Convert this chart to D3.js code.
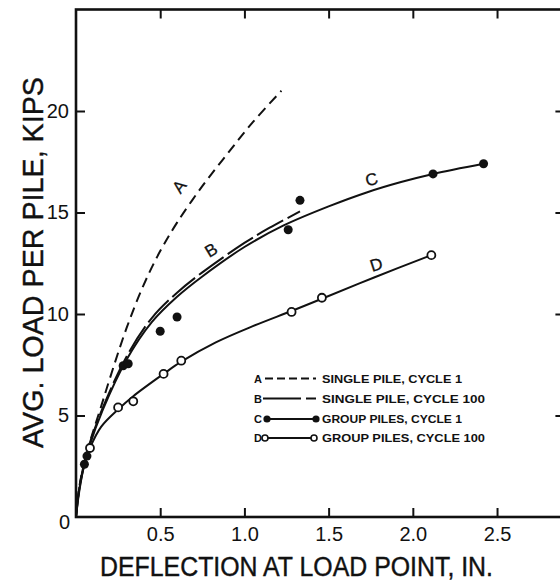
<!DOCTYPE html>
<html>
<head>
<meta charset="utf-8">
<script src="https://cdn.jsdelivr.net/npm/d3@7"></script>
<style>
  body { margin: 0; background: #fff; }
  svg { display: block; }
  text { font-family: "Liberation Sans", Arial, sans-serif; fill: #111; }
</style>
</head>
<body>
<div id="chart"></div>
<script>
// curve A: single pile, cycle 1 (dashed)
const curveA = [[0,0],[0.02,1.5],[0.05,2.7],[0.09,3.9],[0.14,5.2],[0.2,6.8],[0.3,9.3],[0.4,11.4],[0.5,13.1],[0.6,14.5],[0.75,16.3],[0.9,17.9],[1.05,19.45],[1.22,21.0]];
// curve B: single pile, cycle 100 (long dash)
const curveB = [[0,0],[0.02,1.45],[0.05,2.7],[0.08,3.6],[0.16,5.4],[0.3,7.9],[0.45,9.8],[0.6,11.05],[0.75,12.05],[1.0,13.5],[1.15,14.25],[1.33,15.05]];
// curve C: group piles, cycle 1
const curveC = [[0,0],[0.02,1.4],[0.05,2.6],[0.08,3.5],[0.16,5.3],[0.3,7.75],[0.45,9.6],[0.6,10.85],[0.75,11.85],[1.0,13.3],[1.23,14.35],[1.5,15.3],[1.73,16.0],[1.93,16.5],[2.12,16.9],[2.42,17.4]];
const pointsC = [[0.05,2.6],[0.065,3.0],[0.28,7.45],[0.31,7.55],[0.5,9.15],[0.6,9.85],[1.26,14.15],[1.33,15.6],[2.12,16.9],[2.42,17.4]];
// curve D: group piles, cycle 100
const curveD = [[0,0],[0.02,1.3],[0.05,2.6],[0.083,3.4],[0.15,4.45],[0.25,5.3],[0.34,5.95],[0.52,7.05],[0.625,7.65],[0.83,8.6],[1.05,9.4],[1.28,10.15],[1.46,10.75],[1.77,11.8],[2.11,12.9]];
const pointsD = [[0.083,3.4],[0.25,5.4],[0.34,5.7],[0.52,7.05],[0.625,7.7],[1.28,10.1],[1.46,10.8],[2.11,12.9]];

const xTicks = [0.5, 1.0, 1.5, 2.0, 2.5];
const yTicks = [5, 10, 15, 20];
const legendKeys = ["A", "B", "C", "D"];
const legendLabels = ["SINGLE PILE, CYCLE 1", "SINGLE PILE, CYCLE 100", "GROUP PILES, CYCLE 1", "GROUP PILES, CYCLE 100"];

const width = 560, height = 581;
const svg = d3.select("#chart").append("svg")
    .attr("width", width)
    .attr("height", height);

const x = d3.scaleLinear().domain([0, 2.9]).range([76, 564.4]);
const y = d3.scaleLinear().domain([0, 25]).range([517, 9.5]);

// axes with inward ticks
const bottom = svg.append("g")
    .attr("transform", `translate(0,${y(0)})`)
    .call(d3.axisBottom(x).tickValues(xTicks).tickFormat(d3.format(".1f")).tickSize(-9).tickPadding(10));
const left = svg.append("g")
    .attr("transform", `translate(${x(0)},0)`)
    .call(d3.axisLeft(y).tickValues(yTicks).tickSize(-9).tickPadding(7));
svg.append("g")
    .attr("transform", `translate(0,${y(25)})`)
    .call(d3.axisTop(x).tickValues(xTicks).tickFormat("").tickSize(-9));
svg.append("g")
    .attr("transform", `translate(${x(2.9)},0)`)
    .call(d3.axisRight(y).tickValues(yTicks).tickFormat("").tickSize(-9));

svg.selectAll(".domain").remove();
svg.selectAll(".tick line").attr("stroke", "#111").attr("stroke-width", 2);
bottom.selectAll("text").attr("font-size", 20).attr("fill", "#111");
left.selectAll("text").attr("font-size", 20).attr("fill", "#111");

svg.append("rect")
    .attr("x", x(0)).attr("y", y(25))
    .attr("width", x(2.9) - x(0)).attr("height", y(0) - y(25))
    .attr("fill", "none").attr("stroke", "#111").attr("stroke-width", 2.6);

svg.append("text")
    .attr("x", 64.5).attr("y", 529)
    .attr("text-anchor", "middle")
    .attr("font-size", 20)
    .text("0");

// axis titles
svg.append("text")
    .attr("x", 100).attr("y", 576)
    .attr("font-size", 27)
    .attr("stroke", "#111").attr("stroke-width", 0.4)
    .attr("textLength", 393)
    .attr("lengthAdjust", "spacingAndGlyphs")
    .text("DEFLECTION AT LOAD POINT, IN.");

svg.append("text")
    .attr("transform", "translate(43,448) rotate(-90)")
    .attr("font-size", 29)
    .attr("stroke", "#111").attr("stroke-width", 0.4)
    .attr("textLength", 371)
    .attr("lengthAdjust", "spacingAndGlyphs")
    .text("AVG. LOAD PER PILE, KIPS");

// curves
const line = d3.line().x(d => x(d[0])).y(d => y(d[1])).curve(d3.curveCatmullRom.alpha(0.5));
const plot = svg.append("g").attr("fill", "none").attr("stroke", "#111").attr("stroke-width", 2);
plot.append("path").attr("d", line(curveA)).attr("stroke-dasharray", "10,6");
plot.append("path").attr("d", line(curveB)).attr("stroke-dasharray", "30,5");
plot.append("path").attr("d", line(curveC));
plot.append("path").attr("d", line(curveD));

svg.append("g").selectAll("circle")
    .data(pointsC)
    .join("circle")
    .attr("cx", d => x(d[0])).attr("cy", d => y(d[1]))
    .attr("r", 4.5).attr("fill", "#111");

svg.append("g").selectAll("circle")
    .data(pointsD)
    .join("circle")
    .attr("cx", d => x(d[0])).attr("cy", d => y(d[1]))
    .attr("r", 4).attr("fill", "#fff").attr("stroke", "#111").attr("stroke-width", 1.8);

// curve labels
const curveLabels = [
    { t: "A", px: 184, py: 190, r: -53 },
    { t: "B", px: 214, py: 255, r: -31 },
    { t: "C", px: 373, py: 185, r: -14 },
    { t: "D", px: 378, py: 270, r: -18 }
];
svg.append("g").selectAll("text")
    .data(curveLabels)
    .join("text")
    .attr("transform", d => `translate(${d.px},${d.py}) rotate(${d.r})`)
    .attr("text-anchor", "middle")
    .attr("font-size", 17)
    .attr("stroke", "#111").attr("stroke-width", 0.3)
    .text(d => d.t);

// legend
const legY = [378.5, 398.5, 419, 438];
const leg = svg.append("g");
legendKeys.forEach((k, i) => {
    const yy = legY[i];
    leg.append("text")
        .attr("x", 258).attr("y", yy + 4)
        .attr("text-anchor", "middle")
        .attr("font-size", 11).attr("font-weight", "bold")
        .text(k);
    const l = leg.append("line")
        .attr("x1", 265).attr("x2", 316)
        .attr("y1", yy).attr("y2", yy)
        .attr("stroke", "#111").attr("stroke-width", 2);
    if (k === "A") l.attr("stroke-dasharray", "8,4");
    if (k === "B") l.attr("x1", 263).attr("stroke-dasharray", "38,5");
    if (k === "C") {
        leg.append("circle").attr("cx", 267).attr("cy", yy).attr("r", 3.6).attr("fill", "#111");
        leg.append("circle").attr("cx", 316).attr("cy", yy).attr("r", 3.6).attr("fill", "#111");
    }
    if (k === "D") {
        leg.append("circle").attr("cx", 265).attr("cy", yy).attr("r", 3).attr("fill", "#fff").attr("stroke", "#111").attr("stroke-width", 1.6);
        leg.append("circle").attr("cx", 314).attr("cy", yy).attr("r", 3).attr("fill", "#fff").attr("stroke", "#111").attr("stroke-width", 1.6);
    }
    leg.append("text")
        .attr("x", 322).attr("y", yy + 4)
        .attr("font-size", 11).attr("font-weight", "bold")
        .attr("textLength", legendLabels[i].endsWith("100") ? 163 : 140)
        .attr("lengthAdjust", "spacingAndGlyphs")
        .text(legendLabels[i]);
});
</script>
</body>
</html>
